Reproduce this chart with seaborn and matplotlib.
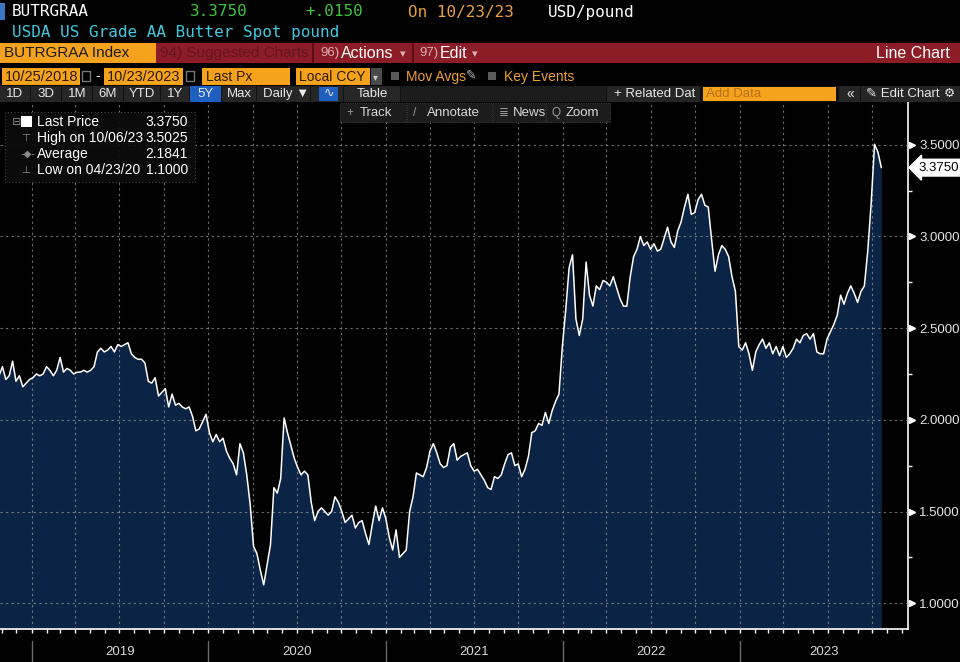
import pandas as pd
import numpy as np
import matplotlib
matplotlib.use("Agg")
import matplotlib.pyplot as plt
import matplotlib.dates as mdates
from matplotlib.patches import Rectangle
import seaborn as sns

# weekly closes (Fridays from 2018-10-26)
start_date = "2018-10-26"
prices = [
    2.24, 2.29, 2.22, 2.24, 2.32, 2.21, 2.24, 2.18, 2.20, 2.22,
    2.23, 2.25, 2.24, 2.25, 2.29, 2.27, 2.24, 2.27, 2.34, 2.26,
    2.28, 2.27, 2.25, 2.26, 2.26, 2.27, 2.26, 2.27, 2.29, 2.37,
    2.39, 2.37, 2.38, 2.40, 2.37, 2.41, 2.40, 2.41, 2.42, 2.36,
    2.34, 2.33, 2.33, 2.31, 2.21, 2.20, 2.23, 2.13, 2.15, 2.17,
    2.07, 2.14, 2.08, 2.09, 2.07, 2.06, 2.07, 2.02, 1.94, 1.95,
    1.99, 2.03, 1.93, 1.88, 1.92, 1.88, 1.90, 1.83, 1.79, 1.76,
    1.70, 1.87, 1.82, 1.70, 1.54, 1.31, 1.27, 1.18, 1.10, 1.21,
    1.32, 1.63, 1.60, 1.68, 2.01, 1.93, 1.86, 1.79, 1.74, 1.70,
    1.72, 1.70, 1.55, 1.45, 1.50, 1.52, 1.50, 1.48, 1.50, 1.58,
    1.55, 1.50, 1.44, 1.46, 1.48, 1.41, 1.44, 1.45, 1.38, 1.32,
    1.43, 1.53, 1.45, 1.52, 1.46, 1.36, 1.29, 1.40, 1.25, 1.27,
    1.29, 1.50, 1.58, 1.71, 1.70, 1.69, 1.74, 1.83, 1.87, 1.82,
    1.76, 1.74, 1.75, 1.85, 1.87, 1.78, 1.80, 1.81, 1.82, 1.75,
    1.72, 1.73, 1.70, 1.67, 1.63, 1.62, 1.69, 1.68, 1.70, 1.76,
    1.81, 1.82, 1.75, 1.76, 1.69, 1.73, 1.80, 1.93, 1.94, 1.98,
    1.97, 2.04, 1.98, 2.05, 2.10, 2.14, 2.40, 2.60, 2.83, 2.90,
    2.55, 2.46, 2.55, 2.86, 2.68, 2.62, 2.73, 2.71, 2.76, 2.75,
    2.73, 2.78, 2.72, 2.66, 2.62, 2.62, 2.78, 2.89, 2.93, 3.00,
    2.95, 2.97, 2.93, 2.96, 2.92, 2.93, 2.99, 3.05, 2.97, 2.94,
    3.03, 3.08, 3.16, 3.23, 3.12, 3.13, 3.20, 3.23, 3.17, 3.16,
    2.98, 2.81, 2.90, 2.95, 2.93, 2.89, 2.78, 2.70, 2.40, 2.38,
    2.42, 2.36, 2.27, 2.37, 2.41, 2.44, 2.39, 2.42, 2.36, 2.40,
    2.35, 2.40, 2.34, 2.36, 2.39, 2.44, 2.42, 2.46, 2.47, 2.44,
    2.47, 2.37, 2.36, 2.36, 2.44, 2.48, 2.52, 2.57, 2.68, 2.63,
    2.69, 2.73, 2.69, 2.64, 2.70, 2.73, 2.92, 3.18, 3.5025, 3.46,
    3.375,
]
years = [2019, 2020, 2021, 2022, 2023]
legend_labels = ["Last Price", "High on 10/06/23", "Average", "Low on 04/23/20"]
legend_values = ["3.3750", "3.5025", "2.1841", "1.1000"]
range_buttons = ["1D", "3D", "1M", "6M", "YTD", "1Y", "5Y", "Max"]

df = pd.DataFrame({
    "date": pd.date_range(start_date, periods=len(prices), freq="7D"),
    "price": prices,
})

sns.set_theme(style="dark", rc={"axes.facecolor": "black", "figure.facecolor": "black"})
plt.rcParams["font.family"] = ["Liberation Sans", "DejaVu Sans"]

W, H = 960, 662
ORANGE = "#f5a31d"
fig = plt.figure(figsize=(W / 100, H / 100), dpi=100, facecolor="black")
ax = fig.add_axes([0, (H - 628.5) / H, 908 / W, (628.5 - 102) / H])
ax.set_facecolor("black")

ax.fill_between(df["date"], df["price"], 0, color="#0b2445", lw=0, zorder=1)
sns.lineplot(data=df, x="date", y="price", color="white", lw=1.1, ax=ax, zorder=3)

ax.set_xlim(pd.Timestamp("2018-10-28"), pd.Timestamp("2023-12-14"))
ax.set_ylim(0.862, 3.733)
ax.set_xlabel("")
ax.set_ylabel("")

# grid / ticks
ax.xaxis.set_major_locator(mdates.MonthLocator(bymonth=[1, 4, 7, 10]))
ax.xaxis.set_minor_locator(mdates.MonthLocator())
ax.xaxis.set_major_formatter(plt.NullFormatter())
ax.set_yticks(np.arange(1.0, 3.51, 0.5))
ax.set_yticks(np.arange(1.25, 3.6, 0.5), minor=True)
ax.yaxis.tick_right()
ax.yaxis.set_major_formatter(plt.FuncFormatter(lambda v, p: f"{v:.4f}"))
ax.set_axisbelow(False)
ax.grid(True, which="major", color="#a0a0a0", alpha=0.7, linestyle=(0, (2, 3)), lw=0.8)
ax.tick_params(axis="x", which="both", direction="out", length=3, width=1, color="white", bottom=True)
ax.tick_params(axis="y", which="major", length=0, pad=8, labelsize=9.5, labelcolor="#e6e6e6")
ax.tick_params(axis="y", which="minor", direction="out", length=3, width=1, color="white", right=True)
for side in ["left", "top"]:
    ax.spines[side].set_visible(False)
for side in ["right", "bottom"]:
    ax.spines[side].set_visible(True)
    ax.spines[side].set_color("white")
    ax.spines[side].set_linewidth(1.2)

ytrans = ax.get_yaxis_transform()
for t in ax.get_yticks():
    ax.plot([1.0045], [t], marker=">", ms=4.5, color="white", transform=ytrans, clip_on=False)

last = df["price"].iloc[-1]
ax.text(1.011, last, f"{last:.4f}", transform=ytrans, ha="left", va="center", fontsize=9.5,
        color="black", bbox=dict(boxstyle="larrow,pad=0.18", fc="white", ec="white"))

# year labels under the axis
xtrans = ax.get_xaxis_transform()
x_end = mdates.num2date(ax.get_xlim()[1]).replace(tzinfo=None)
for y in years:
    y0 = pd.Timestamp(f"{y}-01-01")
    y1 = min(pd.Timestamp(f"{y + 1}-01-01"), pd.Timestamp(x_end))
    ax.axvline(y0, ymin=-0.064, ymax=-0.024, color="#6a6a6a", lw=1, clip_on=False)
    ax.text(y0 + (y1 - y0) / 2, -0.045, str(y), transform=xtrans, ha="center", va="center",
            fontsize=9.5, color="#d8d8d8")


# ---- terminal chrome ----
def box(x, y, w, h, color, **kw):
    fig.add_artist(Rectangle((x / W, 1 - (y + h) / H), w / W, h / H, transform=fig.transFigure,
                             facecolor=color, edgecolor=kw.pop("ec", "none"), **kw))


def label(x, y, s, color, size=10, **kw):
    fig.text(x / W, 1 - y / H, s, color=color, fontsize=size, va="center", **kw)


mono = "DejaVu Sans Mono"
box(0, 3, 5, 17, "#3a76c4")
label(12, 12, "BUTRGRAA", "white", 11.5, family=mono)
label(190, 12, "3.3750", "#3cc43c", 11.5, family=mono)
label(305, 12, "+.0150", "#3cc43c", 11.5, family=mono)
label(408, 12, "On 10/23/23", "#e8a040", 11.5, family=mono)
label(548, 12, "USD/pound", "white", 11.5, family=mono)
label(12, 32, "USDA US Grade AA Butter Spot pound", "#40c8e0", 11.5, family=mono)

box(0, 43, 156, 20, ORANGE)
label(4, 53, "BUTRGRAA Index", "#1a1a1a", 11)
box(156, 43, 804, 20, "#8c1c26")
box(312, 43, 2, 20, "#5a0e14")
box(412, 43, 2, 20, "#5a0e14")
label(160, 53, "94) Suggested Charts", "#63141c", 11)
label(320, 53, "96)", "#d9b0b0", 9.5)
label(341, 53, "Actions", "white", 11.5)
label(400, 54, "▾", "#d9b0b0", 8)
label(419, 53, "97)", "#d9b0b0", 9.5)
label(440, 53, "Edit", "white", 11.5)
label(472, 54, "▾", "#d9b0b0", 8)
label(950, 53, "Line Chart", "white", 11.5, ha="right")

box(2, 68, 78, 17, ORANGE)
label(5, 77, "10/25/2018", "#2a1a00", 10.5)
box(82, 71, 8, 10, "none", ec="#777777", lw=1)
label(95, 76, "-", "white", 10)
box(104, 68, 79, 17, ORANGE)
label(107, 77, "10/23/2023", "#2a1a00", 10.5)
box(186, 71, 8, 10, "none", ec="#777777", lw=1)
box(202, 68, 88, 17, ORANGE)
label(206, 77, "Last Px", "#2a1a00", 10)
box(296, 68, 74, 17, ORANGE)
label(299, 77, "Local CCY", "#2a1a00", 10)
box(371, 68, 11, 17, "#4a4a4a")
label(373, 77, "▾", "#cccccc", 7)
box(391, 72, 8, 8, "#5a5a5a")
label(406, 77, "Mov Avgs", "#f0a030", 10)
label(466, 76, "✎", "#bbbbbb", 9)
box(488, 72, 8, 8, "#5a5a5a")
label(504, 77, "Key Events", "#f0a030", 10)

# range buttons row
box(0, 86, 960, 16, "#111111")
cells = [(0, 30), (31, 61), (62, 92), (93, 123), (124, 160), (161, 189), (190, 221), (222, 256)]
for (x0, x1), name in zip(cells, range_buttons):
    box(x0, 86, x1 - x0, 16, "#1f5fbf" if name == "5Y" else "#262626")
    label((x0 + x1) / 2, 94, name, "#e8e8e8", 9.5, ha="center")
box(257, 86, 53, 16, "#262626")
label(263, 94, "Daily ▼", "#e8e8e8", 9.5)
box(311, 86, 32, 16, "#262626")
box(319, 87, 19, 14, "#1f5fbf")
label(328.5, 94, "∿", "#e8e8e8", 9, ha="center")
box(344, 86, 56, 16, "#262626")
label(372, 94, "Table", "#e8e8e8", 9.5, ha="center")
box(401, 86, 205, 16, "#1c1c1c")
box(607, 86, 93, 16, "#262626")
label(614, 94, "+ Related Dat", "#e8e8e8", 9.5)
box(703, 87, 133, 14, ORANGE)
label(706, 94, "Add Data", "#b8701a", 9.5)
box(839, 86, 21, 16, "#262626")
label(850, 94, "«", "#e8e8e8", 10, ha="center")
box(861, 86, 77, 16, "#262626")
label(866, 94, "✎ Edit Chart", "#e8e8e8", 9.5)
box(939, 86, 21, 16, "#262626")
label(949.5, 94, "⚙", "#e8e8e8", 9, ha="center")

# chart toolbar
for x0, x1, icon, name in [(340, 406, "+", "Track"), (407, 492, "/", "Annotate"),
                           (493, 545, "≣", "News"), (546, 610, "Q", "Zoom")]:
    box(x0, 103, x1 - x0, 19, "#1c1c1c", ec="#3a3a3a", lw=0.8, ls=(0, (1, 1)))
    label(x0 + 6, 113, icon, "#9a9a9a", 8.5)
    label(x0 + 20, 113, name, "#d8d8d8", 9.5)

# stats legend
box(5, 112, 190, 70, "#0c0c0c", ec="#4a4a4a", lw=0.8, ls=(0, (1, 2)), alpha=0.92)
box(21, 116, 11, 11, "white")
label(12, 122, "⊟", "#8a8a8a", 8)
for i, (name, val) in enumerate(zip(legend_labels, legend_values)):
    yy = 122 + 16 * i
    if i > 0:
        label(21, yy, ["", "⊤", "-◆-", "⊥"][i], "#8a8a8a", 7.5)
    label(37, yy, name, "white", 10)
    label(188, yy, val, "white", 10, ha="right")

fig.savefig("out.png", dpi=100, facecolor="black")
